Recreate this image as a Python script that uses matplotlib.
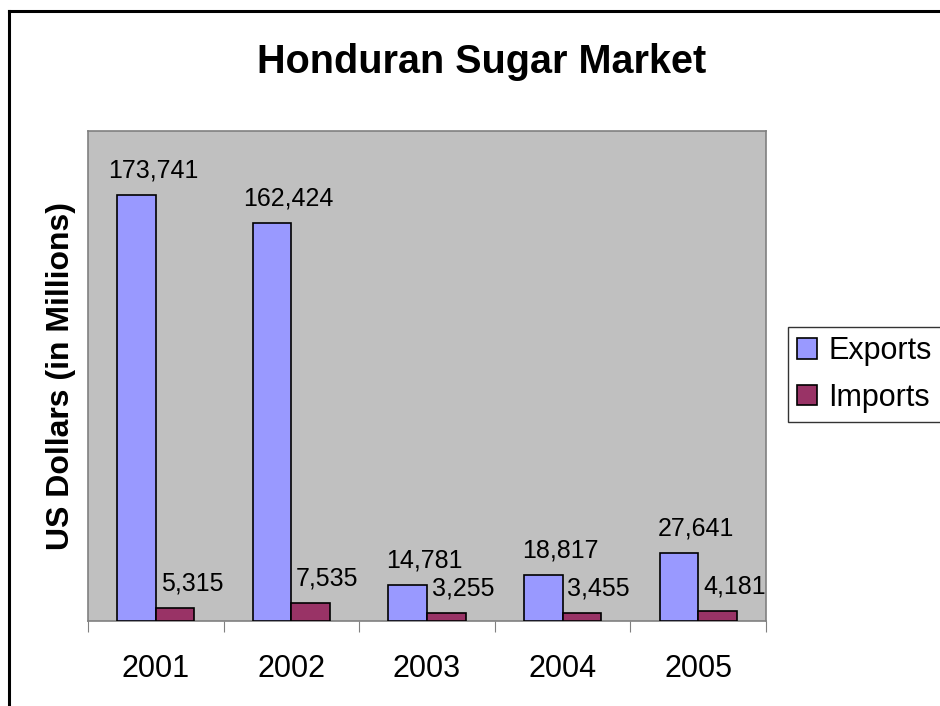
import matplotlib
matplotlib.use("Agg")
import matplotlib.pyplot as plt
import numpy as np
from matplotlib.lines import Line2D

plt.rcParams['font.family'] = ['Liberation Sans', 'DejaVu Sans']

years = ["2001", "2002", "2003", "2004", "2005"]
exports = [173741, 162424, 14781, 18817, 27641]
imports = [5315, 7535, 3255, 3455, 4181]
series_names = ["Exports", "Imports"]

W, H = 940, 706
fig = plt.figure(figsize=(W / 100, H / 100), dpi=100)
ax = fig.add_axes([88 / W, 1 - 621 / H, (766 - 88) / W, (621 - 131) / H])
ax.set_facecolor("#C0C0C0")

x = np.arange(len(years))
bw = 0.285
b1 = ax.bar(x + 0.5 - bw / 2, exports, bw, color="#9999FF", edgecolor="black", linewidth=1.2, label=series_names[0], zorder=3)
b2 = ax.bar(x + 0.5 + bw / 2, imports, bw, color="#993366", edgecolor="black", linewidth=1.2, label=series_names[1], zorder=3)

for bars, vals in ((b1, exports), (b2, imports)):
    for r, v in zip(bars, vals):
        ax.annotate(f"{v:,}", (r.get_x() + r.get_width() / 2, v), xytext=(12, 9),
                    textcoords="offset points", ha="center", va="bottom", fontsize=18)

ax.set_xlim(0, len(years))
ax.set_ylim(0, 200000)
ax.set_xticks(np.arange(len(years) + 1))
ax.set_xticklabels([])
ax.set_xticks(x + 0.5, minor=True)
ax.set_xticklabels(years, minor=True, fontsize=22)
ax.tick_params(axis="x", which="major", length=8, direction="out", color="#808080")
ax.tick_params(axis="x", which="minor", length=0, pad=24)
ax.set_yticks([])
for s in ("top", "right", "left", "bottom"):
    ax.spines[s].set_color("#808080")
    ax.spines[s].set_linewidth(1.2)

ax.set_ylabel("US Dollars (in Millions)", fontsize=23, fontweight="bold")
ax.yaxis.set_label_coords((76 - 88) / (766 - 88), 0.5)

fig.text(482 / W, 1 - 62 / H, "Honduran Sugar Market", ha="center", va="center",
         fontsize=28.5, fontweight="bold")

leg = fig.legend(handles=[b1, b2], loc="upper left", bbox_to_anchor=(788 / W, 1 - 327 / H),
                 fontsize=22, frameon=True, fancybox=False, edgecolor="black",
                 handlelength=0.65, handleheight=0.65, handletextpad=0.36, borderpad=0.3,
                 labelspacing=0.55, borderaxespad=0)
leg.get_frame().set_linewidth(1.0)

# outer frame (top and left)
fig.add_artist(Line2D([8.5 / W, 1], [1 - 10.5 / H, 1 - 10.5 / H], color="black", lw=2.2, transform=fig.transFigure))
fig.add_artist(Line2D([8.5 / W, 8.5 / W], [0, 1 - 10.5 / H], color="black", lw=2.2, transform=fig.transFigure))

fig.savefig("out.png", dpi=100)
